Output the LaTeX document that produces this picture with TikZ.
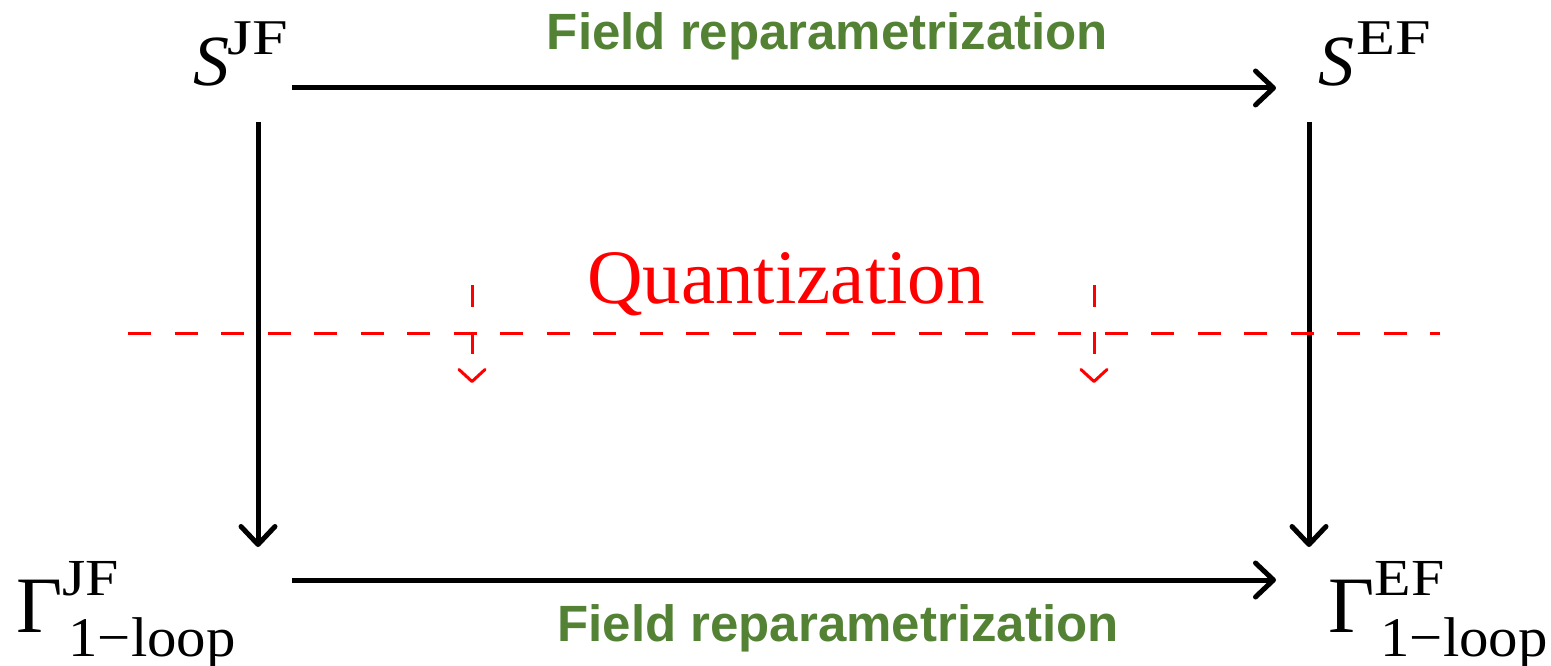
\documentclass[tikz,border=0pt]{standalone}
\usepackage{fontspec}
\setmainfont{Liberation Serif}
\newfontfamily\gsans{Liberation Sans}
\usetikzlibrary{arrows.meta}
\definecolor{fgreen}{RGB}{84,130,53}
\definecolor{qred}{RGB}{255,0,0}
\tikzset{
  mainarrow/.style={line width=5pt, -{Straight Barb[length=18pt,width=34pt,round]}},
  qline/.style={qred, line width=3pt, dash pattern=on 23pt off 23.5pt},
  qarrow/.style={qred, line width=3pt, dash pattern=on 22pt off 25pt, -{Straight Barb[length=12pt,width=26pt,round]}},
  lbl/.style={inner sep=0pt, anchor=base west},
  greenlbl/.style={inner sep=0pt, anchor=base, text=fgreen, font=\gsans\bfseries\fontsize{51}{51}\selectfont},
}
\begin{document}
\begin{tikzpicture}[x=1pt,y=-1pt]
\useasboundingbox (0,0) rectangle (1551,666);
% labels
\node[lbl] (sjf) at (193,86) {{\fontsize{72}{72}\selectfont\itshape S}\kern-2pt\raisebox{31pt}{\scalebox{1.28}[1]{\fontsize{50}{50}\selectfont JF}}};
\node[lbl] (sef) at (1318,86) {{\fontsize{72}{72}\selectfont\itshape S}\kern2pt\raisebox{31pt}{\scalebox{1.28}[1]{\fontsize{50}{50}\selectfont EF}}};
\node[lbl] (gjf) at (16,632) {{\fontsize{80}{80}\selectfont Γ}\rlap{\raisebox{37pt}{\scalebox{1.15}[1]{\fontsize{52}{52}\selectfont JF}}}\kern6pt\raisebox{-24pt}{\scalebox{1.05}[1]{\fontsize{56}{56}\selectfont 1−loop}}};
\node[lbl] (gef) at (1328,632) {{\fontsize{80}{80}\selectfont Γ}\rlap{\raisebox{37pt}{\scalebox{1.15}[1]{\fontsize{52}{52}\selectfont EF}}}\kern6pt\raisebox{-24pt}{\scalebox{1.05}[1]{\fontsize{56}{56}\selectfont 1−loop}}};
\node[greenlbl] (ftop) at (827.5,50) {Field reparametrization};
\node[greenlbl] (fbot) at (838,641) {Field reparametrization};
\node[lbl, text=qred] (quant) at (587,303) {\fontsize{77}{77}\selectfont Quantization};
% connector end points
\coordinate (a1) at (292,88);   \coordinate (a2) at (1276,88);
\coordinate (b1) at (292,580);  \coordinate (b2) at (1276,580);
\coordinate (l1) at (258,122);  \coordinate (l2) at (258,547);
\coordinate (r1) at (1309,122); \coordinate (r2) at (1309,547);
\coordinate (q1) at (128,333);  \coordinate (q2) at (1440,333);
\coordinate (d1) at (472,285);  \coordinate (d2) at (472,383);
\coordinate (e1) at (1094,285); \coordinate (e2) at (1094,383);
% arrows
\draw[mainarrow] (a1) -- (a2);
\draw[mainarrow] (b1) -- (b2);
\draw[mainarrow] (l1) -- (l2);
\draw[mainarrow] (r1) -- (r2);
\draw[qline] (q1) -- (q2);
\draw[qarrow] (d1) -- (d2);
\draw[qarrow] (e1) -- (e2);
\end{tikzpicture}
\end{document}
